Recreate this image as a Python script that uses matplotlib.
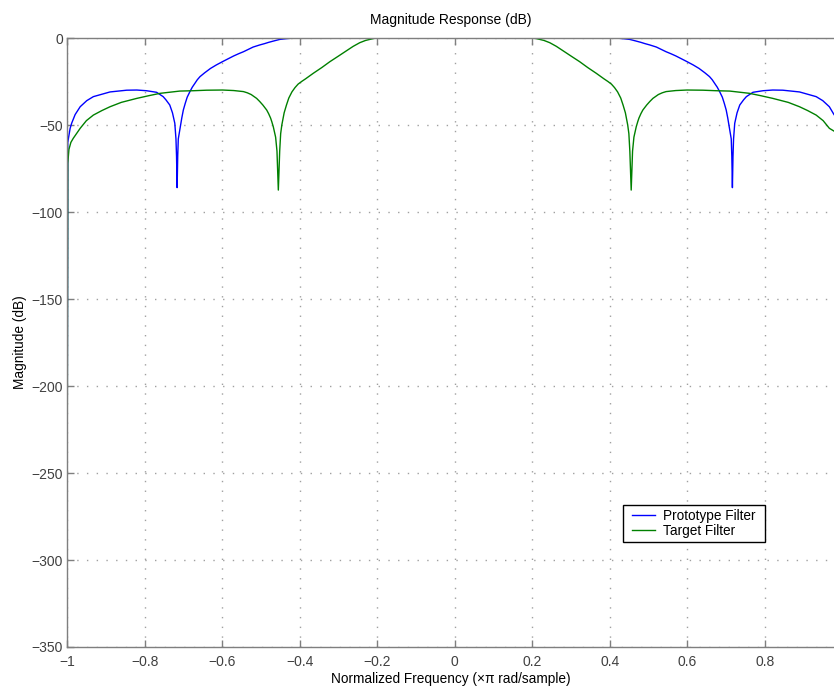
import matplotlib
matplotlib.use("Agg")
import matplotlib.pyplot as plt
from matplotlib.legend_handler import HandlerLine2D
from matplotlib.lines import Line2D

plt.rcParams['font.family'] = ['Liberation Sans', 'DejaVu Sans']

# Prototype filter (blue) – normalized frequency / magnitude in dB
proto_f = [-1.000, -0.998, -0.997, -0.992, -0.988, -0.979, -0.966, -0.949, -0.932, -0.889,
           -0.846, -0.820, -0.795, -0.769, -0.752, -0.745, -0.735, -0.728, -0.722, -0.719,
           -0.7175, -0.716, -0.7145, -0.713, -0.710, -0.707, -0.704, -0.700, -0.695, -0.690,
           -0.683, -0.677, -0.670, -0.664, -0.657, -0.645, -0.630, -0.615, -0.599, -0.585,
           -0.570, -0.557, -0.545, -0.532, -0.520, -0.503, -0.490, -0.480, -0.465, -0.451,
           -0.435, -0.420, -0.400, 0.000,
           0.400, 0.420, 0.435, 0.451, 0.465, 0.480, 0.490, 0.503, 0.520, 0.532,
           0.545, 0.557, 0.570, 0.585, 0.599, 0.615, 0.630, 0.645, 0.657, 0.664,
           0.670, 0.677, 0.683, 0.690, 0.695, 0.700, 0.704, 0.707, 0.710, 0.713,
           0.7145, 0.716, 0.7175, 0.719, 0.722, 0.728, 0.735, 0.745, 0.752, 0.769,
           0.795, 0.820, 0.846, 0.889, 0.932, 0.949, 0.966, 0.978]
proto_db = [-310, -60, -58.6, -52, -49, -44, -39.5, -36, -33.7, -31,
            -30, -29.9, -30.3, -31.2, -33.7, -35.5, -38.5, -43, -49, -58,
            -68, -86, -68, -58, -54, -50, -46, -41.4, -37.5, -34,
            -30.8, -28.3, -26, -24, -22.2, -20, -17.5, -15.5, -13.6, -12,
            -10.3, -9, -7.9, -6.5, -5.2, -4, -3.2, -2.5, -1.6, -0.8,
            -0.4, -0.1, 0, 0,
            0, -0.1, -0.4, -0.8, -1.6, -2.5, -3.2, -4, -5.2, -6.5,
            -7.9, -9, -10.3, -12, -13.6, -15.5, -17.5, -20, -22.2, -24,
            -26, -28.3, -30.8, -34, -37.5, -41.4, -46, -50, -54, -58,
            -68, -86, -68, -58, -49, -43, -38.5, -35.5, -33.7, -31.2,
            -30.3, -29.9, -30, -31, -33.7, -36, -39.5, -44]

# Target filter (green)
target_f = [-1.000, -0.998, -0.995, -0.990, -0.984, -0.966, -0.950, -0.932, -0.910, -0.889,
            -0.860, -0.820, -0.790, -0.760, -0.709, -0.674, -0.640, -0.599, -0.570, -0.545,
            -0.535, -0.525, -0.511, -0.503, -0.495, -0.485, -0.480, -0.475, -0.472, -0.468,
            -0.462, -0.4585, -0.455, -0.4515, -0.449, -0.446, -0.440, -0.434, -0.428, -0.420,
            -0.412, -0.404, -0.395, -0.385, -0.365, -0.343, -0.322, -0.300, -0.279, -0.262,
            -0.245, -0.230, -0.219, -0.205, -0.200, 0.000,
            0.200, 0.205, 0.219, 0.230, 0.245, 0.262, 0.279, 0.300, 0.322, 0.343,
            0.365, 0.385, 0.395, 0.404, 0.412, 0.420, 0.428, 0.434, 0.440, 0.446,
            0.449, 0.4515, 0.455, 0.4585, 0.462, 0.468, 0.472, 0.475, 0.480, 0.485,
            0.495, 0.503, 0.511, 0.525, 0.535, 0.545, 0.570, 0.599, 0.640, 0.674,
            0.709, 0.760, 0.790, 0.820, 0.860, 0.889, 0.910, 0.932, 0.950, 0.966,
            0.978]
target_db = [-318, -72, -64, -60, -57.7, -51.9, -47.5, -44.3, -41.7, -39.5,
             -37, -34.7, -33.2, -31.8, -30.5, -30.3, -30.0, -29.9, -30.2, -30.8,
             -31.5, -32.5, -34.7, -36.5, -38.5, -41.4, -43.5, -46, -48, -51,
             -57, -65, -87.4, -65, -55, -50, -43, -38.5, -34.5, -31,
             -28.5, -26.5, -25, -23.5, -20.3, -17, -13.6, -10.4, -7.3, -4.8,
             -2.7, -1.4, -0.8, -0.1, 0, 0,
             0, -0.1, -0.8, -1.4, -2.7, -4.8, -7.3, -10.4, -13.6, -17,
             -20.3, -23.5, -25, -26.5, -28.5, -31, -34.5, -38.5, -43, -50,
             -55, -65, -87.4, -65, -57, -51, -48, -46, -43.5, -41.4,
             -38.5, -36.5, -34.7, -32.5, -31.5, -30.8, -30.2, -29.9, -30.0, -30.3,
             -30.5, -31.8, -33.2, -34.7, -37, -39.5, -41.7, -44.3, -47.5, -51.9,
             -53.5]

x_ticks = [-1, -0.8, -0.6, -0.4, -0.2, 0, 0.2, 0.4, 0.6, 0.8]
x_tick_labels = ['\u22121', '\u22120.8', '\u22120.6', '\u22120.4', '\u22120.2', '0', '0.2', '0.4', '0.6', '0.8']
y_ticks = [-350, -300, -250, -200, -150, -100, -50, 0]
y_tick_labels = ['\u2212350', '\u2212300', '\u2212250', '\u2212200', '\u2212150', '\u2212100', '\u221250', '0']

fig = plt.figure(figsize=(8.34, 6.87), dpi=100)
ax = fig.add_axes([67/834, 1-647/687, 1-67/834, (647-38)/687])

ax.plot(proto_f, proto_db, color='#0000ff', lw=1.0, label='Prototype Filter')
ax.plot(target_f, target_db, color='#008000', lw=1.0, label='Target Filter')

ax.set_xlim(-1, 0.978)
ax.set_ylim(-350, 0)
ax.set_xticks(x_ticks)
ax.set_xticklabels(x_tick_labels)
ax.set_yticks(y_ticks)
ax.set_yticklabels(y_tick_labels)

spine_col = '#7f7f7f'
for s in ['left', 'bottom', 'top']:
    ax.spines[s].set_color(spine_col)
    ax.spines[s].set_linewidth(1.0)
ax.spines['right'].set_visible(False)

ax.tick_params(axis='both', direction='in', length=5, width=1.0, color=spine_col,
               labelcolor='#404040', labelsize=10, top=True)
ax.tick_params(axis='x', pad=6)
ax.tick_params(axis='y', pad=3)
ax.grid(True, linestyle=(0, (1, 6)), color='#a0a0a0', linewidth=1.0)

ax.set_title('Magnitude Response (dB)', fontsize=10, pad=10)
ax.set_xlabel('Normalized Frequency (\u00d7\u03c0 rad/sample)', fontsize=9.8, labelpad=2)
ax.set_ylabel('Magnitude (dB)', fontsize=9.8, labelpad=3)

leg = ax.legend(loc='upper left', bbox_to_anchor=(0.725, 0.233, 0.185, 0.0), mode='expand',
                fontsize=9.8, fancybox=False, edgecolor='black', framealpha=1, handlelength=2.1,
                borderaxespad=0, borderpad=0.25, labelspacing=0.12, handletextpad=0.6,
                handler_map={Line2D: HandlerLine2D(xpad=0.41)})
leg.get_frame().set_linewidth(1.0)

fig.savefig('out.png', dpi=100)
